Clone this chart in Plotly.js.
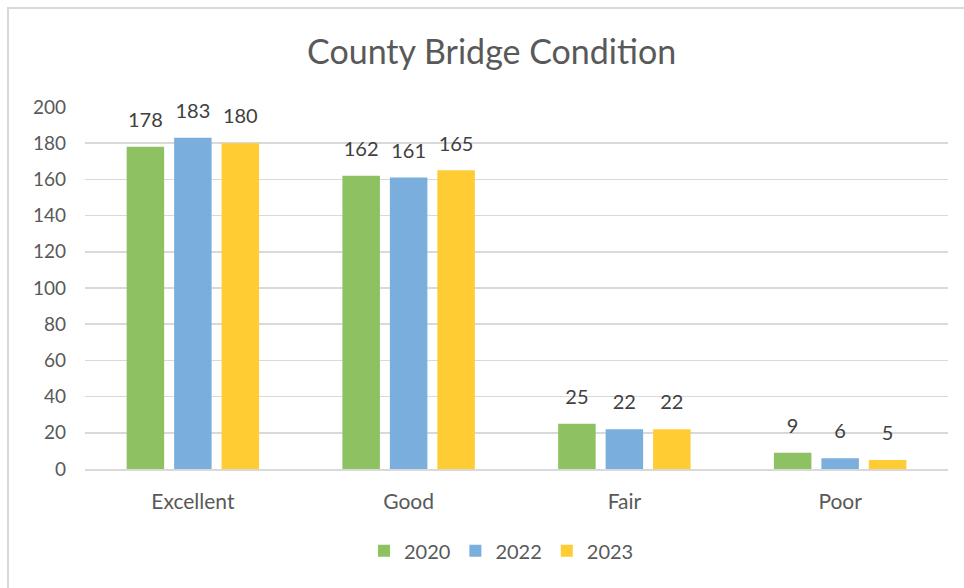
<!DOCTYPE html>
<html>
<head>
<meta charset="utf-8">
<script src="https://cdn.plot.ly/plotly-3.0.1.min.js"></script>
<style>html,body{margin:0;padding:0;background:#fff;}#chart{width:964px;height:588px;}</style>
</head>
<body>
<div id="chart"></div>
<script>
const categories = ["Excellent", "Good", "Fair", "Poor"];
const seriesNames = ["2020", "2022", "2023"];
const values2020 = [178, 162, 25, 9];
const values2022 = [183, 161, 22, 6];
const values2023 = [180, 165, 22, 5];
const colors = ["#8DC162", "#7AAEDD", "#FFCC33"];
const yTicks = [0, 20, 40, 60, 80, 100, 120, 140, 160, 180, 200];

const allValues = [values2020, values2022, values2023];
const barTraces = allValues.map((vals, i) => ({
  type: "bar",
  name: seriesNames[i],
  x: categories,
  y: vals,
  offsetgroup: "g" + i,
  alignmentgroup: "a",
  marker: {color: colors[i]},
  hoverinfo: "skip"
}));
const labelTraces = allValues.map((vals, i) => ({
  type: "scatter",
  mode: "markers+text",
  x: categories,
  y: vals,
  offsetgroup: "g" + i,
  alignmentgroup: "a",
  text: vals.map(String),
  textposition: "top center",
  marker: {size: 22, color: "rgba(0,0,0,0)"},
  textfont: {family: "Lato, 'Open Sans', sans-serif", size: 20, color: "#404040"},
  cliponaxis: false,
  showlegend: false,
  hoverinfo: "skip"
}));

const layout = {
  width: 964,
  height: 588,
  paper_bgcolor: "#ffffff",
  plot_bgcolor: "#ffffff",
  margin: {l: 85, r: 16, t: 107, b: 119},
  font: {family: "Lato, 'Open Sans', sans-serif", color: "#595959"},
  title: {
    text: "County Bridge Condition",
    font: {size: 34, color: "#595959"},
    x: 0.51, xanchor: "center",
    y: 0.912, yanchor: "middle"
  },
  barmode: "group",
  scattermode: "group",
  bargap: 0.34,
  bargroupgap: 0.21,
  xaxis: {
    tickfont: {size: 21, color: "#595959"},
    showgrid: false,
    showline: true,
    linecolor: "#d9d9d9",
    linewidth: 1.5,
    ticks: "",
    ticklabelstandoff: 13
  },
  yaxis: {
    range: [0, 200],
    tickvals: yTicks,
    ticktext: yTicks.map(String),
    tickfont: {size: 19, color: "#595959"},
    showgrid: true,
    gridcolor: "#d9d9d9",
    gridwidth: 1.5,
    zeroline: false,
    showline: false,
    ticks: "",
    ticklabelstandoff: 18
  },
  showlegend: true,
  legend: {
    orientation: "h",
    x: 0.4826, xanchor: "center",
    y: -0.226, yanchor: "middle",
    font: {size: 20, color: "#595959"},
    itemwidth: 30,
    traceorder: "normal"
  },
  shapes: [{
    type: "path",
    xref: "paper", yref: "paper",
    path: "M -0.0892,-0.6 L -0.0892,1.2735 L 1.1,1.2735",
    line: {color: "#d9d9d9", width: 2}
  }]
};

Plotly.newPlot("chart", barTraces.concat(labelTraces), layout, {displayModeBar: false, staticPlot: true});
</script>
</body>
</html>
